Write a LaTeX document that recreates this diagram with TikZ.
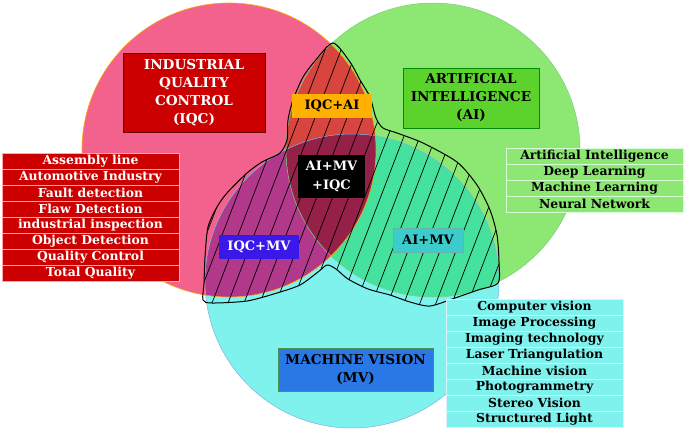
\documentclass[tikz,border=0pt]{standalone}
\usepackage{fontspec}
\setmainfont{DejaVu Serif}
\definecolor{iqcpink}{HTML}{F2628C}
\definecolor{aigreen}{HTML}{8CE872}
\definecolor{mvcyan}{HTML}{80F2EE}
\definecolor{iqcai}{HTML}{D8443E}
\definecolor{iqcmv}{HTML}{B2388C}
\definecolor{aimv}{HTML}{44E29C}
\definecolor{allthree}{HTML}{952048}
\definecolor{iqcred}{HTML}{CC0000}
\definecolor{aidark}{HTML}{5CD22C}
\definecolor{mvblue}{HTML}{2A78E6}
\definecolor{tagorange}{HTML}{FFB000}
\definecolor{tagviolet}{HTML}{3A18E8}
\definecolor{tagteal}{HTML}{3CCCCC}
\tikzset{
  headbox/.style={rectangle,align=center,inner sep=0pt,
    font=\bfseries\fontsize{13.6}{18}\selectfont},
  tagbox/.style={rectangle,align=center,inner sep=0pt,minimum height=24pt,
    font=\bfseries\fontsize{13}{19}\selectfont},
  listrow/.style={rectangle,inner sep=0pt,minimum width=177pt,minimum height=16pt,
    font=\bfseries\fontsize{12.4}{12}\selectfont},
}
\begin{document}
\begin{tikzpicture}[x=1pt,y=-1pt]
\useasboundingbox[fill=white] (0,0) rectangle (685,432);
% the three sets
\fill[iqcpink] (229,150) circle (147pt);
\fill[aigreen] (433,150) circle (147pt);
\fill[mvcyan] (352,281) circle (147pt);
\begin{scope}
\clip (229,150) circle (147pt);
\fill[iqcai] (433,150) circle (147pt);
\fill[iqcmv] (352,281) circle (147pt);
\end{scope}
\begin{scope}
\clip (433,150) circle (147pt);
\fill[aimv] (352,281) circle (147pt);
\clip (229,150) circle (147pt);
\fill[allthree] (352,281) circle (147pt);
\end{scope}
\draw[orange!70!yellow,line width=0.6pt] (229,150) circle (147pt);
\draw[green!60!black!50,line width=0.5pt] (433,150) circle (147pt);
\draw[cyan!60!blue!50,line width=0.5pt] (352,281) circle (147pt);
% hatched overlap
\def\overlap{plot[smooth cycle,tension=0.45] coordinates {(333,43) (350,62) (360,80)
  (370,97) (376,118) (383,128) (397,133) (423,143) (457,162) (477,185) (490,210)
  (497,235) (499,262) (498,283) (478,290) (455,298) (430,306) (410,302) (390,295)
  (368,289) (348,279) (336,269) (327,265) (318,272) (300,285) (277,293) (247,301)
  (212,303) (203,300) (204,283) (205,257) (208,227) (217,207) (227,193) (247,173)
  (262,162) (280,153) (287,140) (288,120) (293,100) (303,77) (315,61)}}
\begin{scope}
\clip \overlap;
\foreach \x in {93.5,109.5,...,530}
  \draw[line width=0.7pt] (\x,320) -- ++(115,-300);
\end{scope}
\draw[line width=1pt] \overlap;
% set titles
\node[headbox,fill=iqcred,draw=red!40!black,text=white,minimum width=142pt,minimum height=79pt]
  (iqc) at (194,92.5) {INDUSTRIAL\\QUALITY\\CONTROL\\(IQC)};
\node[headbox,fill=aidark,draw=green!55!black,minimum width=136pt,minimum height=60pt]
  (ai) at (471,98) {ARTIFICIAL\\INTELLIGENCE\\(AI)};
\node[headbox,fill=mvblue,draw=green!40!black!70,minimum width=155pt,minimum height=43pt]
  (mv) at (355.5,369.5) {MACHINE VISION\\(MV)};
% overlap tags
\node[tagbox,fill=tagorange,minimum width=80pt] (iqcai) at (332,105.5) {IQC+AI};
\node[tagbox,fill=black,text=white,minimum width=67pt,minimum height=43pt]
  (all) at (331.5,176.5) {AI+MV\\+IQC};
\node[tagbox,fill=tagviolet,text=white,minimum width=80pt] (iqcmv) at (259,247) {IQC+MV};
\node[tagbox,fill=tagteal,draw=teal!60,minimum width=70pt] (aimv) at (428,240) {AI+MV};
% keyword lists
\foreach \t [count=\i] in {Assembly line,Automotive Industry,Fault detection,
  Flaw Detection,industrial inspection,Object Detection,Quality Control,Total Quality}
  \node[listrow,fill=iqcred,draw=red!35,text=white] (iqcw\i) at (90.5,{145+16*\i}) {\t};
\foreach \t [count=\i] in {Artificial Intelligence,Deep Learning,Machine Learning,
  Neural Network}
  \node[listrow,fill=aigreen,draw=green!15] (aiw\i) at (594.5,{140+16*\i}) {\t};
\foreach \t [count=\i] in {Computer vision,Image Processing,Imaging technology,
  Laser Triangulation,Machine vision,Photogrammetry,Stereo Vision,Structured Light}
  \node[listrow,fill=mvcyan,draw=cyan!15] (mvw\i) at (534.5,{291+16*\i}) {\t};
\end{tikzpicture}
\end{document}
